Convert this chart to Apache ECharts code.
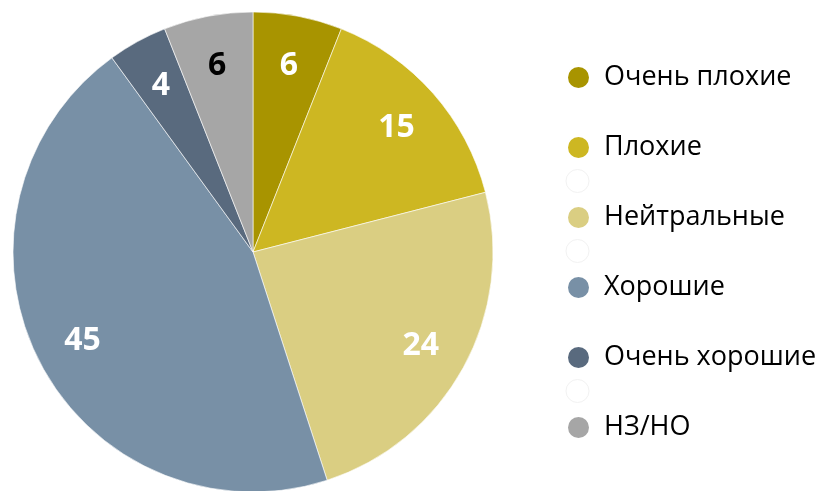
<!DOCTYPE html>
<html>
<head>
<meta charset="utf-8">
<script src="https://cdn.jsdelivr.net/npm/echarts@6/dist/echarts.min.js"></script>
<style>
  html, body { margin: 0; padding: 0; background: #fff; }
  #chart { width: 820px; height: 491px; }
</style>
</head>
<body>
<div id="chart"></div>
<script>
// Survey answers, share in percent
const categories = ['Очень плохие', 'Плохие', 'Нейтральные', 'Хорошие', 'Очень хорошие', 'НЗ/НО'];
const values = [6, 15, 24, 45, 4, 6];
const colors = ['#A89400', '#CDB722', '#DACE82', '#7890A6', '#596A7E', '#A6A6A6'];
const labelColors = ['#fff', '#fff', '#fff', '#fff', '#fff', '#000'];

const FONT = '"Open Sans", "Noto Sans", sans-serif';
const CX = 253, CY = 252, R = 240;

const pieData = categories.map((name, i) => ({
  name, value: values[i],
  itemStyle: { color: colors[i] }
}));

// ring overlay only carries the value labels further out than the default
const labelData = categories.map((name, i) => ({
  name, value: values[i],
  label: { color: labelColors[i] }
}));

const chart = echarts.init(document.getElementById('chart'), null, { renderer: 'canvas' });
chart.setOption({
  animation: false,
  backgroundColor: '#fff',
  legend: {
    orient: 'vertical',
    left: 566,
    top: 64,
    padding: 0,
    icon: 'circle',
    itemWidth: 23,
    itemHeight: 23,
    itemGap: 43,
    selectedMode: false,
    data: categories,
    textStyle: {
      fontFamily: FONT,
      fontSize: 27,
      color: '#000',
      lineHeight: 25,
      padding: [0, 0, 0, 9]
    }
  },
  graphic: [181, 251, 391].map(y => ({
    type: 'circle',
    shape: { cx: 577.5, cy: y, r: 11.5 },
    style: { fill: '#fff', stroke: '#f2f2f2', lineWidth: 1 },
    silent: true
  })),
  series: [
    {
      type: 'pie',
      center: [CX, CY],
      radius: [0, R],
      startAngle: 90,
      clockwise: true,
      label: { show: false },
      labelLine: { show: false },
      itemStyle: { borderColor: '#fff', borderWidth: 0.6 },
      emphasis: { disabled: true },
      data: pieData
    },
    {
      type: 'pie',
      center: [CX, CY + 2],
      radius: [R * 0.57, R],
      startAngle: 90,
      clockwise: true,
      silent: true,
      itemStyle: { color: 'transparent', borderWidth: 0 },
      label: {
        show: true,
        position: 'inside',
        formatter: '{c}',
        fontFamily: FONT,
        fontSize: 32,
        fontWeight: 'bold'
      },
      labelLine: { show: false },
      emphasis: { disabled: true },
      legendHoverLink: false,
      data: labelData
    }
  ]
});
</script>
</body>
</html>
